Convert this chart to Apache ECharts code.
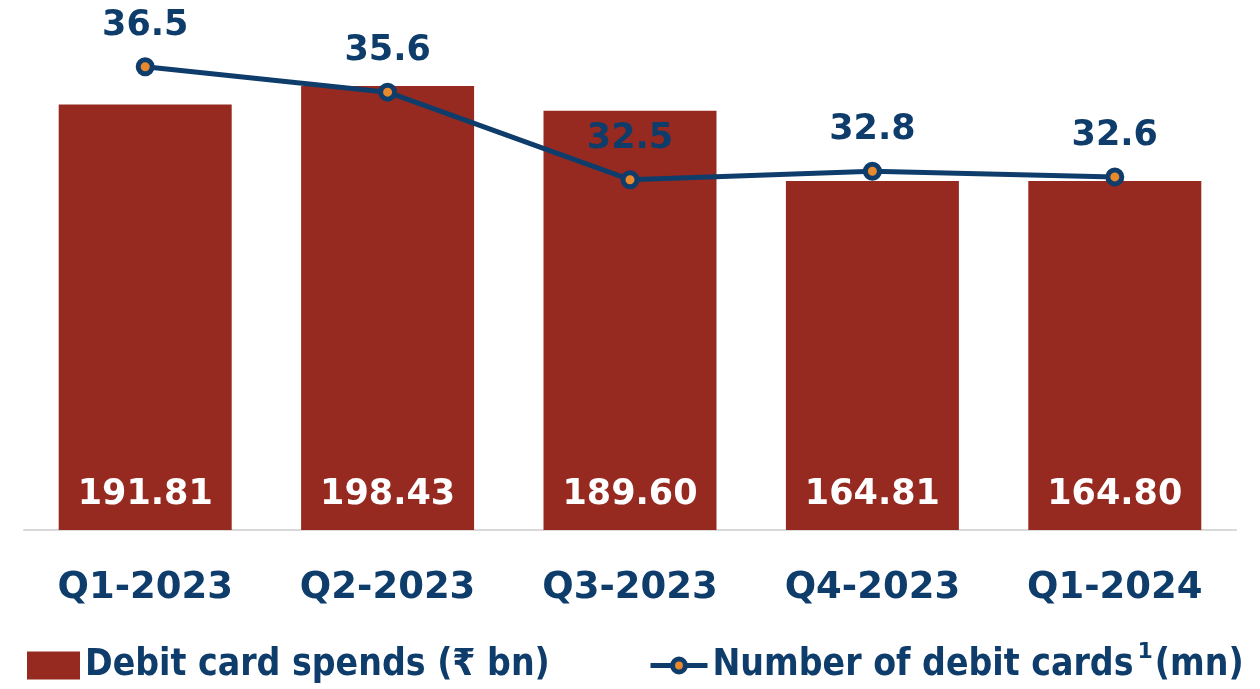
<!DOCTYPE html>
<html>
<head>
<meta charset="utf-8">
<script src="https://cdn.jsdelivr.net/npm/echarts@6/dist/echarts.min.js"></script>
<style>
  html, body { margin: 0; padding: 0; background: #fff; }
  #chart { width: 1260px; height: 689px; }
</style>
</head>
<body>
<div id="chart"></div>
<script>
// data
const quarters = ['Q1-2023', 'Q2-2023', 'Q3-2023', 'Q4-2023', 'Q1-2024'];
const spends = [191.81, 198.43, 189.60, 164.81, 164.80];
const cardCounts = [36.5, 35.6, 32.5, 32.8, 32.6];

const RED = '#962a20';
const NAVY = '#0f3d6b';
const ORANGE = '#e8892e';
const FONT = 'DejaVu Sans';

const legendText = {
  color: NAVY,
  fontFamily: 'DejaVu Sans Condensed',
  fontWeight: 'bold',
  fontSize: 37,
  rich: {
    s: { fontSize: 22, fontWeight: 'bold', color: NAVY, fontFamily: FONT, padding: [0, 2, 26, 4] }
  }
};

const chart = echarts.init(document.getElementById('chart'));

chart.setOption({
  backgroundColor: '#fff',
  animation: false,
  grid: { left: 24, right: 24, top: 30, bottom: 159 },
  legend: [
    {
      left: 22,
      bottom: 0,
      itemWidth: 53,
      itemHeight: 28,
      textStyle: legendText,
      data: [{ name: 'Debit card spends (₹ bn)', icon: 'rect' }]
    },
    {
      left: 643,
      bottom: 0,
      itemWidth: 57,
      itemHeight: 16,
      textStyle: legendText,
      formatter: () => 'Number of debit cards{s|1}(mn)',
      data: [{
        name: 'Number of debit cards',
        lineStyle: { color: NAVY, width: 5 },
        itemStyle: { color: ORANGE, borderColor: NAVY, borderWidth: 5 }
      }]
    }
  ],
  xAxis: {
    type: 'category',
    data: quarters,
    axisLine: { lineStyle: { color: '#d9d9d9', width: 2 } },
    axisTick: { show: false },
    axisLabel: {
      margin: 40,
      color: NAVY,
      fontFamily: FONT,
      fontWeight: 'bold',
      fontSize: 37
    }
  },
  yAxis: [
    { type: 'value', min: 41.3, max: 218.2, show: false },
    { type: 'value', min: 20.1, max: 37.8, show: false }
  ],
  series: [
    {
      name: 'Debit card spends (₹ bn)',
      type: 'bar',
      data: spends,
      barWidth: 173,
      itemStyle: { color: RED },
      label: {
        show: true,
        position: 'insideBottom',
        distance: 18,
        color: '#fff',
        fontFamily: FONT,
        fontWeight: 'bold',
        fontSize: 35,
        formatter: p => p.value.toFixed(2)
      }
    },
    {
      name: 'Number of debit cards',
      type: 'line',
      yAxisIndex: 1,
      data: cardCounts,
      symbol: 'circle',
      symbolSize: 14,
      lineStyle: { color: NAVY, width: 5 },
      itemStyle: { color: ORANGE, borderColor: NAVY, borderWidth: 5 },
      label: {
        show: true,
        position: 'top',
        distance: 14,
        color: NAVY,
        fontFamily: FONT,
        fontWeight: 'bold',
        fontSize: 35,
        formatter: p => p.value.toFixed(1)
      }
    }
  ]
});
</script>
</body>
</html>
